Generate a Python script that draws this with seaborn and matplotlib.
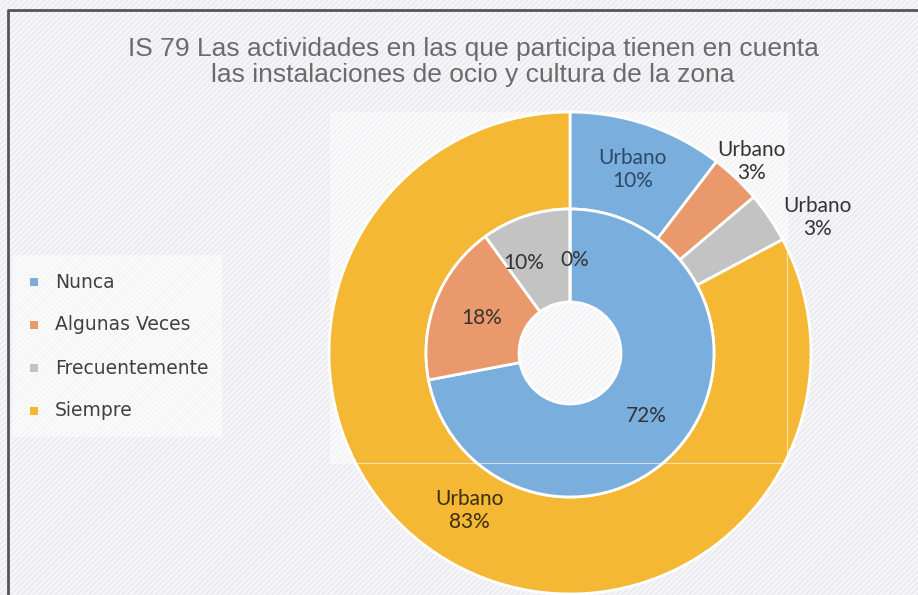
import numpy as np
import matplotlib
matplotlib.use("Agg")
import matplotlib.pyplot as plt
from matplotlib.patches import Rectangle
from matplotlib.lines import Line2D
import seaborn as sns

# ---- data ----
title = "IS 79 Las actividades en las que participa tienen en cuenta\nlas instalaciones de ocio y cultura de la zona"
categories = ["Nunca", "Algunas Veces", "Frecuentemente", "Siempre"]
series_name = "Urbano"
outer_values = [10.4, 3.4, 3.4, 82.8]   # Urbano (outer ring)
inner_values = [72, 18, 10, 0]          # inner ring

sns.set_theme(style="white")
plt.rcParams["hatch.linewidth"] = 1.0
colors = sns.color_palette(["#7AAEDC", "#E9996C", "#C3C3C3", "#F4B835"])

W, H = 918, 595
fig = plt.figure(figsize=(W / 100, H / 100), dpi=100)
fig.patch.set_facecolor("#F6F6F8")
fig.patches.append(Rectangle((0, 0), 1, 1, transform=fig.transFigure,
                             facecolor="#F6F6F8", edgecolor="#E9E9ED",
                             hatch="//////", lw=0, zorder=-10))

ax = fig.add_axes([0, 0, 1, 1])
ax.set_facecolor("none")
ax.set_zorder(1)

def Y(y):
    return H - y

cx, cy = 570, Y(353)
R_out, R_mid, R_in = 241, 144, 51

# faint plot-area and legend backgrounds
ax.add_patch(Rectangle((330, Y(463)), 457, 351, facecolor="white", alpha=0.45,
                       edgecolor="none", zorder=0.5))
ax.add_patch(Rectangle((12, Y(437)), 210, 182, facecolor="white", alpha=0.5,
                       edgecolor="none", zorder=0.5))

w_out, _ = ax.pie(outer_values, radius=R_out, center=(cx, cy), colors=colors,
                  startangle=90, counterclock=False,
                  wedgeprops=dict(width=R_out - R_mid, edgecolor="white", linewidth=2))
w_in, _ = ax.pie(inner_values, radius=R_mid, center=(cx, cy), colors=colors,
                 startangle=90, counterclock=False,
                 wedgeprops=dict(width=R_mid - R_in, edgecolor="white", linewidth=2))

ax.set_xlim(0, W)
ax.set_ylim(0, H)
ax.set_aspect("equal")
ax.axis("off")

# faint plot-area border lines
ax.plot([330, 787, 787], [Y(463), Y(463), Y(112)], color="white", lw=0.8, alpha=0.6, zorder=5)

lab_font = "Lato"

def place(wedge, r, dang=0.0):
    mid = np.deg2rad((wedge.theta1 + wedge.theta2) / 2 + dang)
    return cx + r * np.cos(mid), cy + r * np.sin(mid)

# outer labels
outer_cfg = [(194, 0, "#2E4866"), (264, 0, "#333333"), (282, -5.5, "#333333"), (187, -1.5, "#3A2E10")]
for w, v, (r, da, c) in zip(w_out, outer_values, outer_cfg):
    x, y = place(w, r, da)
    ax.text(x, y, f"{series_name}\n{v:.0f}%", ha="center", va="center", fontsize=15,
            family=lab_font, color=c, linespacing=1.2, zorder=6)

# inner labels
inner_cfg = [(99, 0), (95, 0), (101, 9.5), (93, -3)]
for w, v, (r, da) in zip(w_in, inner_values, inner_cfg):
    x, y = place(w, r, da)
    ax.text(x, y, f"{v:.0f}%", ha="center", va="center", fontsize=15,
            family=lab_font, color="#333333", zorder=6)

# title
ax.text(473, Y(62), title, ha="center", va="center", fontsize=19,
        family="Liberation Sans", color="#6B6B6B", linespacing=1.1)

# legend
for i, (cat, c) in enumerate(zip(categories, colors)):
    yy = Y(282 + 43 * i)
    ax.add_patch(Rectangle((30, yy - 4), 8, 8, facecolor=c, edgecolor="none", zorder=6))
    ax.text(55, yy, cat, ha="left", va="center", fontsize=13.5,
            family="DejaVu Sans", color="#404040", zorder=6)

# frame
ax.add_line(Line2D([8, 8, W], [0, Y(10), Y(10)], color="#555555", lw=2, zorder=7))

fig.savefig("out.png", dpi=100, facecolor=fig.get_facecolor())
